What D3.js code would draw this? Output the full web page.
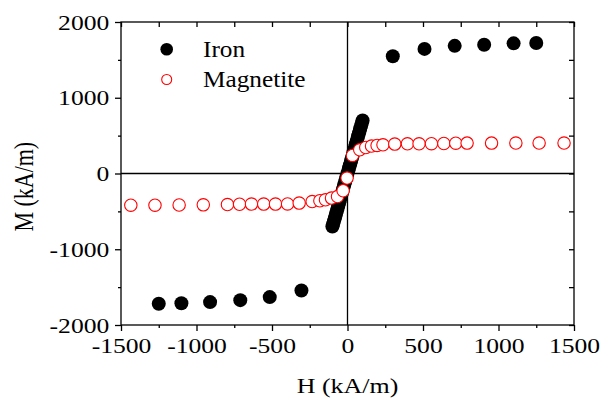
<!DOCTYPE html>
<html>
<head>
<meta charset="utf-8">
<script src="https://cdn.jsdelivr.net/npm/d3@7"></script>
<style>
  body { margin: 0; background: #fff; }
  text { font-family: "Liberation Serif", "Times New Roman", serif; fill: #000; }
</style>
</head>
<body>
<div id="chart"></div>
<script>
// iron: saturation branches plus the dense steep core
var ironH = [-1250, -1100, -910, -710, -515, -305,
  -100, -95, -90, -85, -80, -75, -70, -65, -60, -55, -50, -45, -40, -35, -30, -25, -20, -15, -10, -5,
  0, 5, 10, 15, 20, 25, 30, 35, 40, 45, 50, 55, 60, 65, 70, 75, 80, 85, 90, 95, 100,
  300, 510, 710, 905, 1100, 1250];
var ironM = [-1720, -1712, -1698, -1672, -1632, -1545,
  -700, -668, -632, -597, -562, -526, -491, -456, -421, -385, -350, -315, -280, -245, -210, -175, -140, -105, -70, -35,
  0, 35, 70, 105, 140, 175, 210, 245, 280, 315, 350, 385, 421, 456, 491, 526, 562, 597, 632, 668, 700,
  1548, 1645, 1685, 1700, 1718, 1722];

var magH = [-1435, -1275, -1115, -955, -795, -715, -636, -555, -477, -397, -320, -234, -183, -146, -106, -66, -29, -3,
  33, 81, 121, 159, 196, 235, 313, 397, 474, 556, 638, 717, 792, 954, 1115, 1269, 1434];
var magM = [-418, -418, -416, -414, -410, -406, -404, -404, -404, -402, -391, -370, -360, -347, -325, -304, -228, -60,
  238, 313, 343, 362, 370, 379, 388, 392, 392, 394, 396, 400, 401, 401, 402, 402, 402];

var xTicks = [-1500, -1000, -500, 0, 500, 1000, 1500];
var xMinor = [-1250, -750, -250, 250, 750, 1250];
var yTicks = [-2000, -1000, 0, 1000, 2000];
var yMinor = [-1500, -500, 500, 1500];

var width = 602, height = 401;
var plotL = 121, plotR = 574, plotT = 22, plotB = 325;

var x = d3.scaleLinear().domain([-1500, 1500]).range([plotL, plotR]);
var y = d3.scaleLinear().domain([-2000, 2000]).range([plotB, plotT]);

var svg = d3.select("#chart").append("svg")
    .attr("width", width)
    .attr("height", height);

var fmt = function(d) { return String(d); };

// zero lines
svg.append("line")
    .attr("x1", x(0)).attr("x2", x(0))
    .attr("y1", plotT).attr("y2", plotB)
    .attr("stroke", "#000").attr("stroke-width", 1.3);
svg.append("line")
    .attr("x1", plotL).attr("x2", plotR)
    .attr("y1", y(0)).attr("y2", y(0))
    .attr("stroke", "#000").attr("stroke-width", 1.3);

// bottom axis
var gx = svg.append("g").attr("transform", "translate(0," + plotB + ")")
    .call(d3.axisBottom(x).tickValues(xTicks).tickSize(6).tickSizeOuter(0).tickPadding(7).tickFormat(fmt));
svg.append("g").attr("transform", "translate(0," + plotB + ")")
    .call(d3.axisBottom(x).tickValues(xMinor).tickSize(3).tickSizeOuter(0).tickFormat(""));

// left axis
var gy = svg.append("g").attr("transform", "translate(" + plotL + ",0)")
    .call(d3.axisLeft(y).tickValues(yTicks).tickSize(6).tickSizeOuter(0).tickFormat(fmt));
svg.append("g").attr("transform", "translate(" + plotL + ",0)")
    .call(d3.axisLeft(y).tickValues(yMinor).tickSize(3).tickSizeOuter(0).tickFormat(""));

// top and right: inward ticks only
svg.append("g").attr("transform", "translate(0," + plotT + ")")
    .call(d3.axisBottom(x).tickValues(xTicks.concat(xMinor)).tickSize(5).tickSizeOuter(0).tickFormat(""));
svg.append("g").attr("transform", "translate(" + plotR + ",0)")
    .call(d3.axisLeft(y).tickValues(yTicks.concat(yMinor)).tickSize(5).tickSizeOuter(0).tickFormat(""));

svg.selectAll(".domain").remove();
svg.selectAll(".tick line").attr("stroke", "#000").attr("stroke-width", 1.3);

gx.selectAll("text")
    .attr("font-size", 21)
    .attr("font-family", "Liberation Serif")
    .attr("transform", "scale(1.22,1)");
gy.selectAll("text")
    .attr("font-size", 21)
    .attr("font-family", "Liberation Serif")
    .attr("x", -11.7 / 1.22)
    .attr("dy", "0.34em")
    .attr("transform", "scale(1.22,1)");

// frame
svg.append("rect")
    .attr("x", plotL).attr("y", plotT)
    .attr("width", plotR - plotL).attr("height", plotB - plotT)
    .attr("fill", "none").attr("stroke", "#000").attr("stroke-width", 1.3);

// iron points
svg.append("g").selectAll("circle")
    .data(ironH)
    .enter().append("circle")
    .attr("cx", function(d) { return x(d); })
    .attr("cy", function(d, i) { return y(ironM[i]); })
    .attr("r", 7)
    .attr("fill", "#000");

// magnetite points
svg.append("g").selectAll("circle")
    .data(magH)
    .enter().append("circle")
    .attr("cx", function(d) { return x(d); })
    .attr("cy", function(d, i) { return y(magM[i]); })
    .attr("r", 6.2)
    .attr("fill", "#fff")
    .attr("stroke", "#f00")
    .attr("stroke-width", 1.1);

// axis titles
svg.append("g").attr("transform", "translate(" + x(0) + ",393)")
  .append("text")
    .attr("text-anchor", "middle")
    .attr("font-size", 22)
    .attr("transform", "scale(1.18,1)")
    .text("H (kA/m)");

svg.append("g").attr("transform", "translate(33,186.7) rotate(-90)")
  .append("text")
    .attr("text-anchor", "middle")
    .attr("font-size", 22)
    .attr("transform", "scale(1,1.25)")
    .text("M (kA/m)");

// legend
var legend = svg.append("g");
legend.append("circle")
    .attr("cx", 166.7).attr("cy", 49.3).attr("r", 6.3).attr("fill", "#000");
legend.append("g").attr("transform", "translate(203,56.5)")
  .append("text").attr("font-size", 23).attr("transform", "scale(1.1,1)").text("Iron");
legend.append("circle")
    .attr("cx", 166.7).attr("cy", 79.5).attr("r", 5).attr("fill", "#fff")
    .attr("stroke", "#f00").attr("stroke-width", 1.1);
legend.append("g").attr("transform", "translate(203,86.5)")
  .append("text").attr("font-size", 23).attr("transform", "scale(1.1,1)").text("Magnetite");
</script>
</body>
</html>
